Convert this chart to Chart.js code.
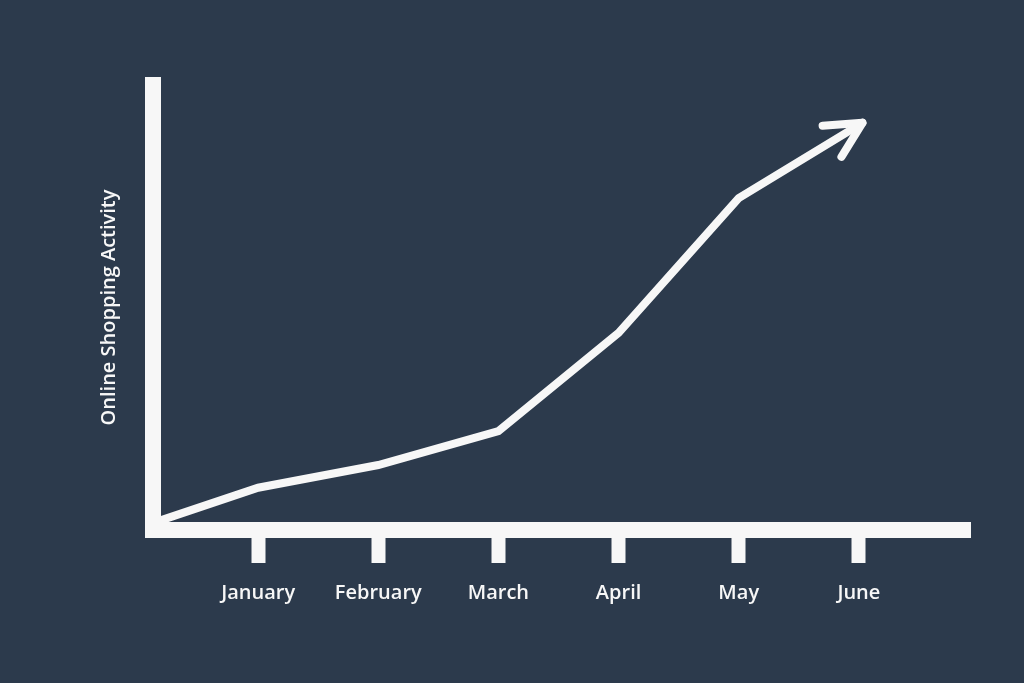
<!DOCTYPE html>
<html>
<head>
<meta charset="utf-8">
<script src="https://cdn.jsdelivr.net/npm/chart.js@4"></script>
<style>
  html, body { margin: 0; padding: 0; background: #2c3a4c; }
  #wrap { width: 1024px; height: 683px; }
</style>
</head>
<body>
<div id="wrap"><canvas id="myChart" width="1024" height="683"></canvas></div>
<script>
// months on the x axis (positions 1..6)
var months = ['January', 'February', 'March', 'April', 'May', 'June']
var monthPos = [1, 2, 3, 4, 5, 6]

// line points: start at origin, one per month up to May, then arrow tip
var xValues = [0.17, 1, 2, 3, 4, 5, 6.03]
var activity = [2, 9.5, 14.6, 22.2, 44.3, 74.6, 91.5]

var white = '#f7f7f7'

var points = []
for (var i = 0; i < xValues.length; i++) {
    points.push({x: xValues[i], y: activity[i]})
}

// draws the arrow head on the last point of the line
const arrowHead = {
    id: 'arrowHead',
    afterDatasetsDraw(chart) {
        const pts = chart.getDatasetMeta(0).data
        const a = pts[pts.length - 2], b = pts[pts.length - 1]
        const ang = Math.atan2(a.y - b.y, a.x - b.x)
        const len = 40, spread = 27 * Math.PI / 180
        const ctx = chart.ctx
        ctx.save()
        ctx.strokeStyle = white
        ctx.lineWidth = 8
        ctx.lineCap = 'round'
        ctx.lineJoin = 'round'
        ctx.beginPath()
        ctx.moveTo(b.x + len * Math.cos(ang + spread), b.y + len * Math.sin(ang + spread))
        ctx.lineTo(b.x, b.y)
        ctx.lineTo(b.x + len * Math.cos(ang - spread), b.y + len * Math.sin(ang - spread))
        ctx.stroke()
        ctx.restore()
    }
}

const config = {
    type: 'line',
    data: {
        datasets: [{
            data: points,
            borderColor: white,
            borderWidth: 8,
            borderJoinStyle: 'miter',
            borderCapStyle: 'round',
            pointRadius: 0,
            tension: 0
        }]
    },
    options: {
        responsive: false,
        animation: false,
        layout: { padding: { left: 0, top: 85, right: 54, bottom: 0 } },
        plugins: { legend: { display: false }, tooltip: { enabled: false } },
        scales: {
            x: {
                type: 'linear',
                min: 0.125,
                max: 6.925,
                afterBuildTicks: function (scale) {
                    scale.ticks = monthPos.map(function (v) { return {value: v} })
                },
                afterFit: function (scale) { scale.height = 153 },
                grid: {
                    display: true,
                    drawOnChartArea: false,
                    drawTicks: true,
                    tickLength: 33,
                    tickWidth: 14,
                    tickColor: white,
                    lineWidth: 1,
                    color: 'rgba(0,0,0,0)'
                },
                border: { display: true, width: 16, color: white },
                ticks: {
                    padding: 18,
                    color: white,
                    font: { family: 'Open Sans', size: 20, weight: '600' },
                    callback: function (v) { return months[monthPos.indexOf(v)] }
                }
            },
            y: {
                min: 0,
                max: 100,
                afterFit: function (scale) { scale.width = 153 },
                grid: { display: false },
                border: { display: true, width: 16, color: white },
                ticks: { display: false },
                title: {
                    display: true,
                    text: 'Online Shopping Activity',
                    color: white,
                    font: { family: 'Open Sans', size: 20, weight: '600' },
                    padding: { top: 97, bottom: 0 }
                }
            }
        }
    },
    plugins: [arrowHead]
}

const myChart = new Chart(document.getElementById('myChart'), config)
</script>
</body>
</html>
